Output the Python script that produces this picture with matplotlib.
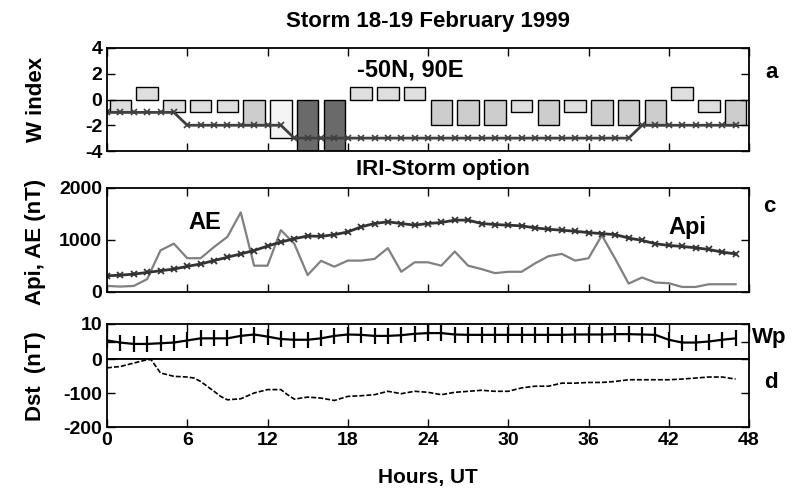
import numpy as np
import matplotlib
matplotlib.use("Agg")
import matplotlib.pyplot as plt

plt.rcParams['font.family'] = ['Liberation Sans', 'DejaVu Sans']
plt.rcParams['font.weight'] = 'bold'
plt.rcParams['axes.unicode_minus'] = False

hours = np.arange(48)

# W index, 2-hour blocks at -50N, 90E
bar_hours = [1, 3, 5, 7, 9, 11, 13, 15, 17, 19, 21, 23,
             25, 27, 29, 31, 33, 35, 37, 39, 41, 43, 45, 47]
w_index = [-1, 1, -1, -1, -1, -2, -3, -4, -4, 1, 1, 1,
           -2, -2, -2, -1, -2, -1, -2, -2, -2, 1, -1, -2]
w_storm = [-1, -1, -1, -1, -1, -1, -2, -2, -2, -2, -2, -2, -2, -2,
           -3, -3, -3, -3, -3, -3, -3, -3, -3, -3, -3, -3, -3, -3,
           -3, -3, -3, -3, -3, -3, -3, -3, -3, -3, -3, -3,
           -2, -2, -2, -2, -2, -2, -2, -2]

# AE and Api (nT), hourly
ae = [117, 104, 117, 247, 800, 930, 650, 650, 865, 1060,
      1530, 506, 506, 1190, 930, 325, 600, 487, 604, 604,
      636, 844, 389, 571, 571, 506, 779, 506, 441, 363,
      389, 389, 550, 688, 733, 604, 649, 1090, 636, 162,
      279, 182, 169, 97, 97, 149, 149, 149]
api = [311, 324, 344, 376, 409, 441, 493, 539, 604, 668,
       733, 798, 883, 960, 1025, 1077, 1070, 1103, 1155, 1253,
       1317, 1350, 1317, 1285, 1317, 1337, 1382, 1382, 1317, 1298,
       1285, 1272, 1233, 1207, 1188, 1168, 1142, 1123, 1103, 1038,
       993, 928, 896, 876, 850, 818, 766, 733]

# Wp index, hourly
wp = [5.3, 4.7, 4.3, 4.3, 4.5, 4.7, 5.3, 5.9, 5.9, 5.9,
      6.6, 7.0, 6.4, 5.7, 5.5, 5.5, 5.9, 6.6, 7.0, 6.9,
      6.6, 6.6, 6.8, 7.2, 7.4, 7.4, 7.0, 6.9, 6.9, 6.9,
      6.9, 6.9, 6.9, 6.9, 6.9, 7.0, 7.0, 7.0, 7.1, 7.1,
      7.0, 6.9, 5.5, 4.7, 4.7, 5.0, 5.5, 5.9]

# Dst (nT)
dst_t = [0, 1, 2, 2.5, 3, 3.3, 4, 5, 6, 6.5,
         7, 8, 8.5, 9, 10, 11, 12, 13, 13.5, 14,
         15, 16, 17, 18, 19, 20, 21, 22, 23, 24,
         25, 26, 27, 28, 29, 30, 31, 32, 33, 34,
         35, 36, 37, 38, 39, 40, 41, 42, 43, 44,
         45, 46, 47]
dst = [-26, -22, -12, -7, -2, -2, -41, -51, -53, -56,
       -66, -95, -110, -120, -117, -100, -90, -90, -105, -118,
       -112, -115, -122, -110, -108, -105, -95, -102, -95, -98,
       -105, -98, -95, -92, -95, -95, -85, -80, -80, -71,
       -71, -69, -69, -66, -61, -61, -61, -61, -59, -56,
       -53, -53, -59]

bar_colors = {1: '#dedede', -1: '#dedede', -2: '#cdcdcd', -3: '#f4f4f4', -4: '#6a6a6a'}

W, H = 794, 497
fig = plt.figure(figsize=(W / 100, H / 100), dpi=100)


def box(left, top, right, bottom):
    return [left / W, 1 - bottom / H, (right - left) / W, (bottom - top) / H]


ax_a = fig.add_axes(box(107, 48, 749, 151))
ax_c = fig.add_axes(box(107, 188, 749, 292))
ax_w = fig.add_axes(box(107, 324, 749, 359))
ax_d = fig.add_axes(box(107, 359, 749, 427))

xt = np.arange(0, 49, 6)
for ax in (ax_a, ax_c, ax_w, ax_d):
    ax.set_xlim(0, 48)
    ax.set_xticks(xt)
    ax.tick_params(direction='in', length=6, width=1, top=True, right=True,
                   labelsize=14, labelbottom=False)
    for s in ax.spines.values():
        s.set_linewidth(1.3)

# panel a
ax_a.bar(bar_hours, w_index, width=1.6, color=[bar_colors[v] for v in w_index],
         edgecolor='black', linewidth=1)
ax_a.plot(hours, w_storm, color='#404040', lw=2, marker='x', ms=4, mew=1.2)
ax_a.set_ylim(-4, 4)
ax_a.set_yticks([-4, -2, 0, 2, 4])
ax_a.text(22.7, 2.3, '-50N, 90E', fontsize=17, ha='center', va='center')
fig.text(428 / W, 1 - 22 / H, 'Storm 18-19 February 1999', fontsize=16,
         ha='center', va='center')

# panel c
ax_c.plot(hours, ae, color='#808080', lw=1.6)
ax_c.plot(hours, api, color='#333333', lw=2, marker='x', ms=5, mew=1.3)
ax_c.set_ylim(0, 2000)
ax_c.set_yticks([0, 1000, 2000])
ax_c.text(7.3, 1330, 'AE', fontsize=17, ha='center', va='center')
ax_c.text(43.4, 1240, 'Api', fontsize=17, ha='center', va='center')
fig.text(443 / W, 1 - 169 / H, 'IRI-Storm option', fontsize=16, ha='center', va='center')

# Wp and Dst
ax_w.plot(hours, wp, color='black', lw=1.6, marker='|', ms=11, mew=1.6)
ax_w.set_ylim(0, 10)
ax_w.set_yticks([5, 10])
ax_w.set_yticklabels(['', '10'])
ax_w.tick_params(bottom=False)

ax_d.plot(dst_t, dst, color='black', lw=1.2, linestyle=(0, (3, 1.2)))
ax_d.set_ylim(-200, 0)
ax_d.set_yticks([-200, -100, 0])
ax_d.tick_params(top=False, labelbottom=True)
ax_d.set_xlabel('Hours, UT', fontsize=15, fontweight='bold', labelpad=14)

# side labels
fig.text(36 / W, 1 - 99 / H, 'W index', rotation=90, fontsize=16, ha='center', va='center')
fig.text(36 / W, 1 - 242 / H, 'Api, AE (nT)', rotation=90, fontsize=16, ha='center', va='center')
fig.text(36 / W, 1 - 376 / H, 'Dst  (nT)', rotation=90, fontsize=16, ha='center', va='center')
fig.text(772 / W, 1 - 73 / H, 'a', fontsize=16, ha='center', va='center')
fig.text(769 / W, 1 - 206 / H, 'c', fontsize=16, ha='center', va='center')
fig.text(752 / W, 1 - 337 / H, 'Wp', fontsize=16, ha='left', va='center')
fig.text(771 / W, 1 - 382 / H, 'd', fontsize=16, ha='center', va='center')

fig.savefig('out.png', dpi=100)
